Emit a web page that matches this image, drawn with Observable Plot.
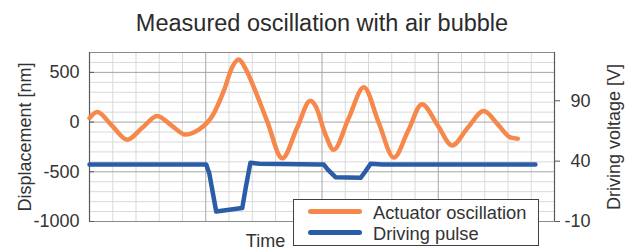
<!DOCTYPE html>
<html>
<head>
<meta charset="utf-8">
<script src="https://cdn.jsdelivr.net/npm/d3@7"></script>
<script src="https://cdn.jsdelivr.net/npm/@observablehq/plot@0.6"></script>
<style>
  body { margin: 0; background: #fff; font-family: "Liberation Sans", Arial, sans-serif; }
  #wrap { position: relative; width: 634px; height: 249px; overflow: hidden; }
  #legend { position: absolute; left: 293px; top: 199px; width: 246px; height: 47px; box-sizing: border-box;
            border: 1px solid #404040; background: #fff; }
  .sw { position: absolute; left: 14px; width: 54px; height: 5px; border-radius: 3px; }
  .lt { position: absolute; left: 79px; font-size: 18.3px; color: #333; line-height: 1; white-space: nowrap; }
</style>
</head>
<body>
<div id="wrap"><div id="chart"></div>
  <div id="legend">
    <div class="sw" style="top:9.2px;background:#f5884a"></div><div class="lt" style="top:3.8px">Actuator oscillation</div>
    <div class="sw" style="top:30.2px;background:#2b5ca8"></div><div class="lt" style="top:24.5px">Driving pulse</div>
  </div>
</div>
<script>
// ---- data ----
const oscTime = [0, 0.33, 0.97, 1.62, 2.27, 2.91, 3.52, 4.13, 4.70, 5.06, 5.28, 5.78, 6.14, 6.42, 6.71, 7.07, 7.64, 8.29, 8.93, 9.50, 9.72, 10.15, 10.50, 11.14, 11.80, 12.43, 13.09, 13.70, 14.30, 14.97, 15.60, 16.26, 16.96, 17.55, 18.10, 18.42];
const oscNm   = [40, 102, -37, -177, -58, 61, -32, -126, -75, -7, 61, 316, 554, 630, 537, 350, 10, -364, -58, 214, 163, -126, -279, 35, 350, 0, -357, -90, 180, -30, -235, -60, 112, -20, -153, -167];
const pulseTime = [0, 5.02, 5.15, 5.45, 6.57, 6.72, 6.92, 7.3, 9.9, 10.08, 10.25, 10.58, 11.66, 11.85, 12.09, 12.6, 19.18];
const pulseVolt = [37.2, 37.2, 30, -1.7, 1.1, 18, 38.6, 37.8, 37.2, 37.2, 33, 26.7, 26.2, 31, 37.8, 37.3, 37.2];
const nmTicks = [-1000, -500, 0, 500];
const voltTicks = [-10, 40, 90];
const nmDomain = [-1000, 700];
const voltDomain = [-10, 130];
const timeDomain = [0, 20];
const title = "Measured oscillation with air bubble";
const seriesNames = ["Actuator oscillation", "Driving pulse"];

// ---- helpers ----
const k = (nmDomain[1] - nmDomain[0]) / (voltDomain[1] - voltDomain[0]);
const voltToNm = v => nmDomain[0] + (v - voltDomain[0]) * k;
const nmToVolt = n => voltDomain[0] + (n - nmDomain[0]) / k;

const osc = oscTime.map((t, i) => ({t, v: oscNm[i]}));
const pulse = pulseTime.map((t, i) => ({t, v: voltToNm(pulseVolt[i])}));

const minorX = d3.range(1, 20).filter(d => d % 5 !== 0);
const majorX = [5, 10, 15];
const minorY = d3.range(-900, 700, 100).filter(d => d % 500 !== 0);
const majorY = [-500, 0, 500];

const chart = Plot.plot({
  width: 634, height: 249,
  marginLeft: 89, marginRight: 80, marginTop: 52, marginBottom: 28,
  style: {fontFamily: '"Liberation Sans", Arial, sans-serif', fontSize: "18px", color: "#333", background: "transparent", overflow: "visible"},
  x: {domain: timeDomain, axis: null},
  y: {domain: nmDomain, axis: null},
  marks: [
    Plot.ruleX(minorX, {stroke: "#d9d9d9", strokeWidth: 1}),
    Plot.ruleY(minorY, {stroke: "#d9d9d9", strokeWidth: 1}),
    Plot.ruleX(majorX, {stroke: "#a6a6a6", strokeWidth: 1}),
    Plot.ruleY(majorY, {stroke: "#a6a6a6", strokeWidth: 1}),
    Plot.frame({stroke: "#8c8c8c"}),
    Plot.ruleX(timeDomain, {stroke: "#595959", strokeWidth: 1.2}),
    Plot.axisY(nmTicks, {anchor: "left", tickSize: -5, tickPadding: 15, tickFormat: d => String(d), label: null, fontSize: 18, stroke: "#595959"}),
    Plot.axisY(voltTicks.map(voltToNm), {anchor: "right", tickSize: 5, tickPadding: 31, textAnchor: "end", tickFormat: d => String(Math.round(nmToVolt(d))), label: null, fontSize: 18, stroke: "#595959"}),
    Plot.line(osc, {x: "t", y: "v", stroke: "#f5884a", strokeWidth: 4.5, curve: "monotone-x", strokeLinecap: "round", strokeLinejoin: "round"}),
    Plot.line(pulse, {x: "t", y: "v", stroke: "#2b5ca8", strokeWidth: 4.5, curve: "linear", strokeLinecap: "round", strokeLinejoin: "round"}),
    Plot.text([title], {frameAnchor: "top", textAnchor: "middle", lineAnchor: "bottom", dy: -22, fontSize: 23.5, fill: "#2b2b2b"}),
    Plot.text(["Displacement [nm]"], {frameAnchor: "left", textAnchor: "middle", lineAnchor: "middle", dx: -64.5, rotate: -90, fontSize: 18, fill: "#333"}),
    Plot.text(["Driving voltage [V]"], {frameAnchor: "right", textAnchor: "middle", lineAnchor: "middle", dx: 60, rotate: -90, fontSize: 18, fill: "#333"}),
    Plot.text(["Time"], {frameAnchor: "bottom", textAnchor: "middle", lineAnchor: "bottom", dx: -56.5, dy: 25, fontSize: 18, fill: "#333"})
  ]
});
document.getElementById("chart").appendChild(chart);
</script>
</body>
</html>
